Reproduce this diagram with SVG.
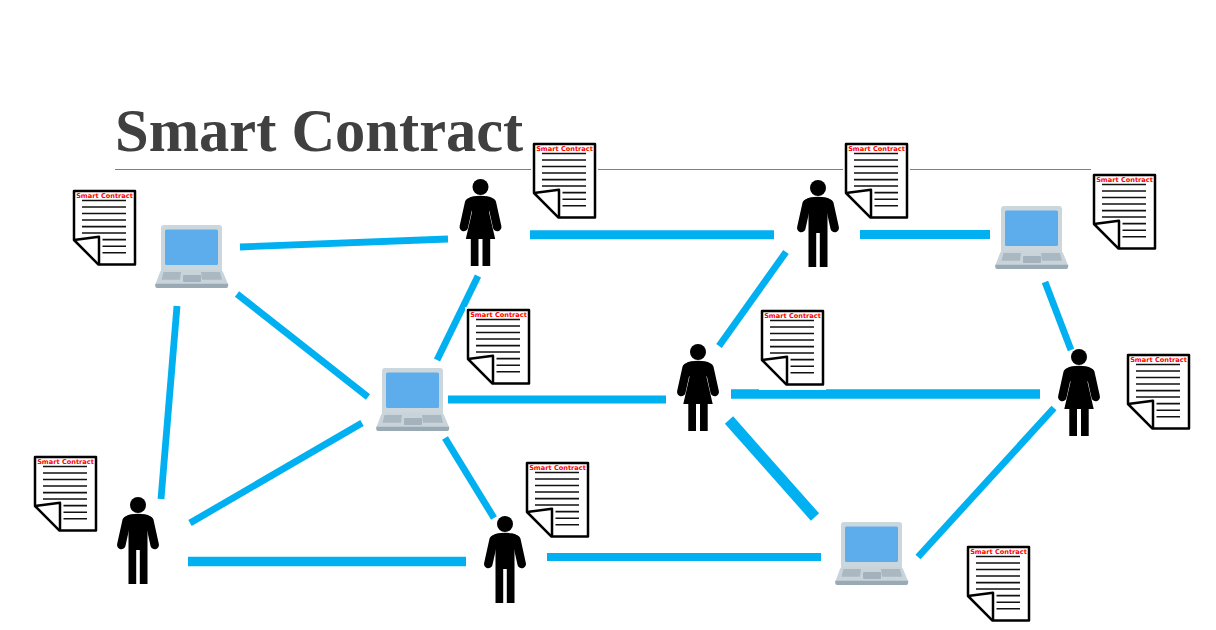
<svg xmlns="http://www.w3.org/2000/svg" width="1216" height="630" viewBox="0 0 1216 630">
<style>
.title{font-family:"Liberation Serif","Times New Roman",serif;font-weight:700;font-size:60.5px;fill:#404040;font-kerning:none;font-variant-ligatures:none}
.dt{font-family:"DejaVu Sans",sans-serif;font-weight:700;font-size:6.6px;fill:#ff0000;text-anchor:middle}
.c{stroke:#00b0f0;fill:none}
.w6{stroke-width:6.8}.w8{stroke-width:8}.w9{stroke-width:9}.w10{stroke-width:9.6}.w11{stroke-width:11}
</style>
<defs>
<g id="doc-base">
<rect x="-2" y="-2" width="67" height="82" fill="#fff"/>
<path d="M1,1H62V74.6H25.5L1,50Z" fill="#fff" stroke="#000" stroke-width="2.5" stroke-linejoin="round"/>
<path d="M1,50L26,46.8V74.6" fill="none" stroke="#000" stroke-width="2.5" stroke-linejoin="round"/>
<path d="M9,10.5H53M9,17H53M9,23.5H53M9,30H53M9,36.6H53M9,43H53M29.5,49.6H53M29.5,56.2H53M29.5,62.8H53" stroke="#111" stroke-width="1.6" fill="none"/>
</g>
<g id="laptop">
<path d="M9,0H64Q67,0 67,3V45H6V3Q6,0 9,0Z" fill="#ccd6dd"/>
<rect x="10" y="4.5" width="53" height="35.5" rx="1.5" fill="#5dadec"/>
<path d="M8,44.5H65Q67,44.5 68,47L73,59Q73.5,63 71,63H2Q-0.5,63 0.5,59L5,47Q6,44.5 8,44.5Z" fill="#c9d3da"/>
<path d="M0.3,58.8H73.2V60Q73.2,63 71,63H2.5Q0.3,63 0.3,60Z" fill="#99aab5"/>
<path d="M8.5,47H26L25,54.7H6.5ZM46,47H65L67,54.7H47Z" fill="#aab8c2"/>
<rect x="28" y="50" width="18" height="7" rx="1" fill="#a3b2bc"/>
</g>
<g id="female">
<circle r="8"/>
<path d="M-7,9.3Q0,8.3 7,9.3Q11,10 13,12L8.5,25L14.7,52H9.7V79H2V52H-2V79H-9.7V52H-14.7L-8.5,25L-13,12Q-11,10 -7,9.3Z"/>
<path d="M-11.3,15.5L-16.7,40M11.3,15.5L16.7,40" stroke="#000" stroke-width="8.5" stroke-linecap="round" fill="none"/>
</g>
<g id="male">
<circle r="8"/>
<path d="M-7,9.3Q0,8.3 7,9.3Q11,10 13,12L9.5,20V79H1.8V45H-1.8V79H-9.5V20L-13,12Q-11,10 -7,9.3Z"/>
<path d="M-11.3,15.5L-16.7,40M11.3,15.5L16.7,40" stroke="#000" stroke-width="8.5" stroke-linecap="round" fill="none"/>
</g>
</defs>
<text class="title" x="115" y="151">Smart Contract</text>
<path d="M115,169.5H1091" stroke="#7f7f7f" stroke-width="1" fill="none"/>
<g id="connectors" class="c">
<path class="w6" d="M240,247L448,239"/>
<path class="w9" d="M530,234.7H774"/>
<path class="w9" d="M860,234.5H990"/>
<path class="w6" d="M478,276L437,360"/>
<path class="w6" d="M786,252L719,346"/>
<path class="w6" d="M1045,282L1071,350"/>
<path class="w6" d="M177,306L161,499"/>
<path class="w6" d="M237,294L368,397"/>
<path class="w8" d="M448,399.5H666"/>
<path class="w10" d="M731,394H1040"/>
<path class="w6" d="M362,423L190,523"/>
<path class="w6" d="M445,438L494,518"/>
<path class="w11" d="M729,420L815,517"/>
<path class="w10" d="M188,561.5H466"/>
<path class="w8" d="M547,557H821"/>
<path class="w6" d="M1054,408L918,557"/>
</g>
<g id="laptop-1"><use href="#laptop" x="155" y="225"/></g>
<g id="laptop-2"><use href="#laptop" x="995" y="206"/></g>
<g id="laptop-3"><use href="#laptop" x="376" y="368"/></g>
<g id="laptop-4"><use href="#laptop" x="835" y="522"/></g>
<g id="person-1"><use href="#female" x="480.5" y="187"/></g>
<g id="person-2"><use href="#male" x="818" y="188"/></g>
<g id="person-3"><use href="#female" x="698" y="352"/></g>
<g id="person-4"><use href="#female" x="1079" y="357"/></g>
<g id="person-5"><use href="#male" x="138" y="505"/></g>
<g id="person-6"><use href="#male" x="505" y="524"/></g>
<g id="doc-1" transform="translate(73,190)"><use href="#doc-base"/><text class="dt" x="31.5" y="7.9">Smart Contract</text></g>
<g id="doc-2" transform="translate(533,143)"><use href="#doc-base"/><text class="dt" x="31.5" y="7.9">Smart Contract</text></g>
<g id="doc-3" transform="translate(845,143)"><use href="#doc-base"/><text class="dt" x="31.5" y="7.9">Smart Contract</text></g>
<g id="doc-4" transform="translate(1093,174)"><use href="#doc-base"/><text class="dt" x="31.5" y="7.9">Smart Contract</text></g>
<g id="doc-5" transform="translate(467,309)"><use href="#doc-base"/><text class="dt" x="31.5" y="7.9">Smart Contract</text></g>
<g id="doc-6" transform="translate(761,310)"><use href="#doc-base"/><text class="dt" x="31.5" y="7.9">Smart Contract</text></g>
<g id="doc-7" transform="translate(1127,354)"><use href="#doc-base"/><text class="dt" x="31.5" y="7.9">Smart Contract</text></g>
<g id="doc-8" transform="translate(34,456)"><use href="#doc-base"/><text class="dt" x="31.5" y="7.9">Smart Contract</text></g>
<g id="doc-9" transform="translate(526,462)"><use href="#doc-base"/><text class="dt" x="31.5" y="7.9">Smart Contract</text></g>
<g id="doc-10" transform="translate(967,546)"><use href="#doc-base"/><text class="dt" x="31.5" y="7.9">Smart Contract</text></g>
</svg>
